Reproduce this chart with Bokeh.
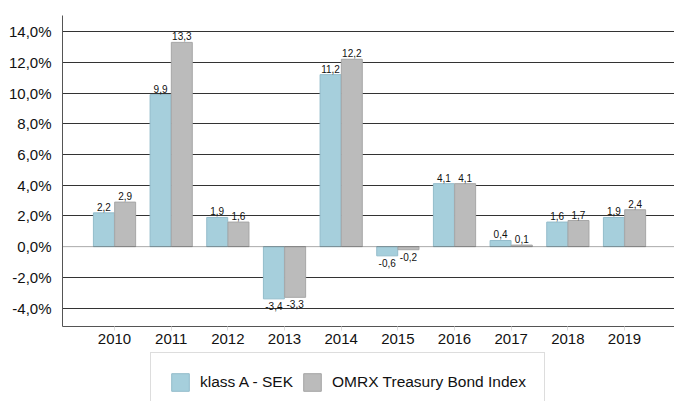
from bokeh.plotting import figure
from bokeh.layouts import column
from bokeh.models import ColumnDataSource, FixedTicker, Range1d, Span, Legend, LegendItem
from bokeh.embed import file_html
from bokeh.resources import INLINE
from bokeh.core.properties import value

years = ["2010", "2011", "2012", "2013", "2014", "2015", "2016", "2017", "2018", "2019"]
fund = [2.2, 9.9, 1.9, -3.4, 11.2, -0.6, 4.1, 0.4, 1.6, 1.9]
index = [2.9, 13.3, 1.6, -3.3, 12.2, -0.2, 4.1, 0.1, 1.7, 2.4]
series_names = ["klass A - SEK", "OMRX Treasury Bond Index"]
y_ticks = [-4, -2, 0, 2, 4, 6, 8, 10, 12, 14]

FONT = "Liberation Sans"
BLUE = "#a6cfdc"
GREY = "#bbbbbb"
EDGES = ["#93bccb", "#a6a6a6"]

xs = list(range(len(years)))
off = 0.1875
w = 0.37

def fmt(v):
    return ("%.1f" % v).replace(".", ",")

p = figure(width=674, height=351, output_backend="svg", toolbar_location=None,
           x_range=Range1d(-0.918, 9.882), y_range=Range1d(-5.2, 15.05),
           min_border_left=62, min_border_right=0, min_border_top=15, min_border_bottom=25)
p.outline_line_color = None
p.background_fill_color = "white"

p.xgrid.visible = False
p.ygrid.ticker = FixedTicker(ticks=[t for t in y_ticks if t != 0])
p.ygrid.grid_line_color = "#333333"
p.ygrid.grid_line_width = 1

for vals, shift, fill, edge in ((fund, -off, BLUE, EDGES[0]), (index, off, GREY, EDGES[1])):
    bx = [i + shift for i in xs]
    p.vbar(x=bx, top=vals, bottom=0, width=w, fill_color=fill, line_color=edge, line_width=1)
    pos = ColumnDataSource(dict(
        x=[bx[i] for i, v in enumerate(vals) if v >= 0],
        y=[v for v in vals if v >= 0],
        lab=[fmt(v) for v in vals if v >= 0]))
    neg = ColumnDataSource(dict(
        x=[bx[i] for i, v in enumerate(vals) if v < 0],
        y=[v for v in vals if v < 0],
        lab=[fmt(v) for v in vals if v < 0]))
    p.text(x="x", y="y", text="lab", source=pos, text_align="center",
           text_baseline="bottom", y_offset=-2, text_font=value(FONT),
           text_font_size="10px", text_color="#111111")
    p.text(x="x", y="y", text="lab", source=neg, text_align="center",
           text_baseline="top", y_offset=3, text_font=value(FONT),
           text_font_size="10px", text_color="#111111")

p.add_layout(Span(location=0, dimension="width", line_color="#555555",
                  line_width=1, line_dash="1 1"))

p.yaxis.ticker = FixedTicker(ticks=y_ticks)
p.yaxis.major_label_overrides = {t: ("%.1f%%" % t).replace(".", ",") for t in y_ticks}
p.yaxis.major_label_text_font = FONT
p.yaxis.major_label_text_font_size = "15px"
p.yaxis.major_label_text_color = "#111111"
p.yaxis.major_tick_line_color = None
p.yaxis.minor_tick_line_color = None
p.yaxis.axis_line_color = "#555555"
p.yaxis.major_label_standoff = 5

p.xaxis.ticker = FixedTicker(ticks=xs)
p.xaxis.major_label_overrides = {i: y for i, y in enumerate(years)}
p.xaxis.major_label_text_font = FONT
p.xaxis.major_label_text_font_size = "15px"
p.xaxis.major_label_text_color = "#111111"
p.xaxis.major_tick_line_color = "#dddddd"
p.xaxis.major_tick_in = 0
p.xaxis.major_tick_out = 4
p.xaxis.minor_tick_line_color = None
p.xaxis.axis_line_color = "#555555"
p.xaxis.major_label_standoff = 3

# legend strip below the chart
q = figure(width=674, height=50, output_backend="svg", toolbar_location=None,
           x_axis_type=None, y_axis_type=None,
           x_range=Range1d(0, 1), y_range=Range1d(0, 1),
           min_border=0)
q.outline_line_color = None
q.grid.visible = False
l1 = q.vbar(x=[5], top=[5], bottom=[4], width=0.1, fill_color=BLUE, line_color=EDGES[0])
l2 = q.vbar(x=[5], top=[5], bottom=[4], width=0.1, fill_color=GREY, line_color=EDGES[1])

legend = Legend(items=[LegendItem(label=series_names[0], renderers=[l1]),
                       LegendItem(label=series_names[1], renderers=[l2])],
                orientation="horizontal", location=(88, -11))
legend.label_text_font = FONT
legend.label_text_font_size = "15.5px"
legend.label_text_color = "#111111"
legend.glyph_width = 22
legend.glyph_height = 22
legend.label_height = 22
legend.padding = 18
legend.margin = 0
legend.spacing = 8
legend.label_standoff = 9
legend.border_line_color = "#bbbbbb"
legend.border_line_width = 1.5
legend.background_fill_color = "white"
legend.background_fill_alpha = 1
q.add_layout(legend, "center")

layout = column(p, q, spacing=0)
open("out.html", "w").write(file_html(layout, INLINE))
